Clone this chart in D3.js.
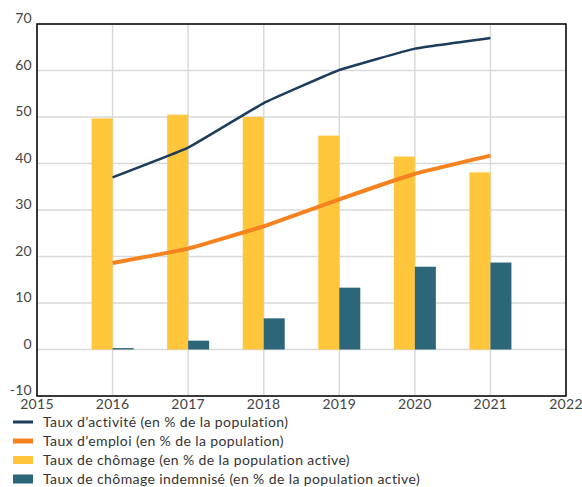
<!DOCTYPE html>
<html>
<head>
<meta charset="utf-8">
<script src="https://cdn.jsdelivr.net/npm/d3@7"></script>
<style>
  body { margin: 0; background: #fff; }
  svg text { font-family: Lato, "Open Sans", sans-serif; }
</style>
</head>
<body>
<div id="chart"></div>
<script>
// data
var years = [2016, 2017, 2018, 2019, 2020, 2021];
var tauxActivite = [37.0, 43.4, 53.0, 60.1, 64.7, 67.0];
var tauxEmploi = [18.6, 21.7, 26.5, 32.3, 37.8, 41.7];
var tauxChomage = [49.7, 50.5, 50.0, 46.0, 41.5, 38.1];
var tauxIndemnise = [0.3, 1.9, 6.7, 13.3, 17.8, 18.7];
var xTicks = [2015, 2016, 2017, 2018, 2019, 2020, 2021, 2022];
var yTicks = [-10, 0, 10, 20, 30, 40, 50, 60, 70];
var seriesNames = [
  "Taux d\u2019activité (en % de la population)",
  "Taux d\u2019emploi (en % de la population)",
  "Taux de chômage (en % de la population active)",
  "Taux de chômage indemnisé (en % de la population active)"
];

var width = 582, height = 487;
var margin = {top: 24, right: 16, bottom: 91, left: 37};
var colors = {activite: "#1d3c5c", emploi: "#f5821f", chomage: "#ffc63b", indemnise: "#2c6679"};

var svg = d3.select("#chart").append("svg")
    .attr("width", width)
    .attr("height", height);

var x = d3.scaleLinear().domain([2015, 2022]).range([margin.left, width - margin.right]);
var y = d3.scaleLinear().domain([-10, 70]).range([height - margin.bottom, margin.top]);

var barW = 21;

// grid
svg.append("g").selectAll("line.h")
  .data(yTicks).enter().append("line")
    .attr("x1", x(2015)).attr("x2", x(2022))
    .attr("y1", function(d) { return y(d); }).attr("y2", function(d) { return y(d); })
    .attr("stroke", "#d9d9d9").attr("stroke-width", 1.5);
svg.append("g").selectAll("line.v")
  .data(xTicks).enter().append("line")
    .attr("x1", function(d) { return x(d); }).attr("x2", function(d) { return x(d); })
    .attr("y1", y(70)).attr("y2", y(-10))
    .attr("stroke", "#d9d9d9").attr("stroke-width", 1.5);

// bars
svg.append("g").selectAll("rect")
  .data(years).enter().append("rect")
    .attr("x", function(d) { return x(d) - barW; })
    .attr("y", function(d, i) { return y(tauxChomage[i]); })
    .attr("width", barW)
    .attr("height", function(d, i) { return y(0) - y(tauxChomage[i]); })
    .attr("fill", colors.chomage);
svg.append("g").selectAll("rect")
  .data(years).enter().append("rect")
    .attr("x", function(d) { return x(d); })
    .attr("y", function(d, i) { return y(tauxIndemnise[i]); })
    .attr("width", barW)
    .attr("height", function(d, i) { return y(0) - y(tauxIndemnise[i]); })
    .attr("fill", colors.indemnise);

// lines (slightly smoothed)
var line = d3.line()
    .x(function(d) { return x(d[0]); })
    .y(function(d) { return y(d[1]); })
    .curve(d3.curveCardinal.tension(0.75));

svg.append("path")
    .attr("d", line(d3.zip(years, tauxActivite)))
    .attr("fill", "none").attr("stroke", colors.activite).attr("stroke-width", 2.5);
svg.append("path")
    .attr("d", line(d3.zip(years, tauxEmploi)))
    .attr("fill", "none").attr("stroke", colors.emploi).attr("stroke-width", 4);

// frame
svg.append("rect")
    .attr("x", x(2015)).attr("y", y(70))
    .attr("width", x(2022) - x(2015)).attr("height", y(-10) - y(70))
    .attr("fill", "none").attr("stroke", "#000").attr("stroke-width", 1.5);

// tick labels
svg.append("g").selectAll("text")
  .data(yTicks).enter().append("text")
    .attr("x", x(2015) - 5)
    .attr("y", function(d) { return y(d) - 1; })
    .attr("text-anchor", "end")
    .attr("fill", "#444")
    .style("font-size", "14px")
    .style("letter-spacing", "0.3px")
    .text(function(d) { return d; });
svg.append("g").selectAll("text")
  .data(xTicks).enter().append("text")
    .attr("x", function(d) { return x(d); })
    .attr("y", y(-10) + 13)
    .attr("text-anchor", "middle")
    .attr("fill", "#444")
    .style("font-size", "14px")
    .style("letter-spacing", "0.3px")
    .text(function(d) { return d; });

// legend
var legend = svg.append("g").attr("transform", "translate(13,422)");
var rowH = 19;
legend.append("rect").attr("x", 0).attr("y", -1.5).attr("width", 20).attr("height", 3).attr("fill", colors.activite);
legend.append("rect").attr("x", 0).attr("y", rowH - 2.5).attr("width", 20).attr("height", 5).attr("fill", colors.emploi);
legend.append("rect").attr("x", 0).attr("y", 2 * rowH - 4).attr("width", 20).attr("height", 8).attr("fill", colors.chomage);
legend.append("rect").attr("x", 0).attr("y", 3 * rowH - 4.5).attr("width", 20).attr("height", 9).attr("fill", colors.indemnise);
legend.selectAll("text")
  .data(seriesNames).enter().append("text")
    .attr("x", 30)
    .attr("y", function(d, i) { return i * rowH + 5; })
    .attr("fill", "#333")
    .style("font-size", "14px")
    .style("letter-spacing", "0.4px")
    .text(function(d) { return d; });
</script>
</body>
</html>
